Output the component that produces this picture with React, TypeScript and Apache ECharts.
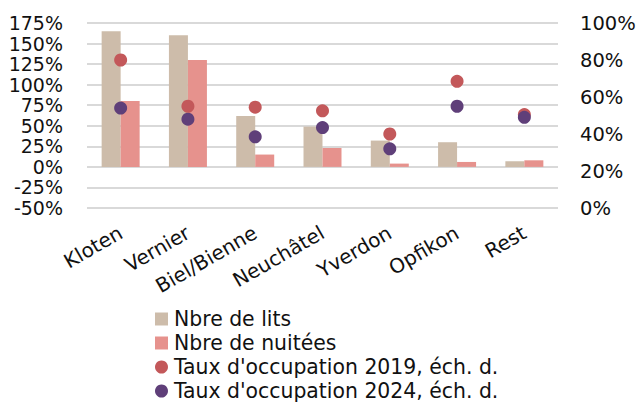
import React, { useEffect, useRef } from "react";
import * as echarts from "echarts";

const categories = ["Kloten", "Vernier", "Biel/Bienne", "Neuchâtel", "Yverdon", "Opfikon", "Rest"];
const lits = [165, 160, 62, 49, 32, 30, 7];
const nuitees = [80, 130, 15, 23, 4, 6, 8];
const taux2019 = [80, 55, 54.5, 52.5, 40, 68.5, 50.5];
const taux2024 = [54, 48, 38.5, 43.5, 32, 55, 49];

const FONT = "DejaVu Sans";

export default function App() {
  const ref = useRef<HTMLDivElement>(null);
  useEffect(() => {
    const chart = echarts.init(ref.current!, null, { renderer: "svg" });
    chart.setOption({
      animation: false,
      textStyle: { fontFamily: FONT },
      grid: { left: 87, right: 81, top: 23, bottom: 197, containLabel: false },
      legend: {
        orient: "vertical",
        left: 155,
        top: 309,
        height: 100,
        padding: 0,
        itemWidth: 13,
        itemHeight: 13,
        itemGap: 4,
        textStyle: { fontFamily: FONT, fontSize: 20.4, lineHeight: 20, color: "#111", padding: [0, 0, 0, 1] },
        data: [
          { name: "Nbre de lits", icon: "rect" },
          { name: "Nbre de nuitées", icon: "rect" },
          { name: "Taux d'occupation 2019, éch. d.", icon: "circle" },
          { name: "Taux d'occupation 2024, éch. d.", icon: "circle" },
        ],
      },
      xAxis: {
        type: "category",
        data: categories,
        axisLine: { show: false },
        axisTick: { show: false },
        axisLabel: { rotate: 30, fontSize: 20, color: "#111", margin: 23, interval: 0, fontFamily: FONT },
      },
      yAxis: [
        {
          type: "value",
          min: -50,
          max: 175,
          interval: 25,
          axisLabel: { formatter: "{value}%", fontSize: 19, color: "#111", margin: 24, fontFamily: FONT },
          splitLine: { lineStyle: { color: "#d9d9d9", width: 2 } },
          axisLine: { show: false },
          axisTick: { show: false },
        },
        {
          type: "value",
          min: 0,
          max: 100,
          interval: 20,
          position: "right",
          axisLabel: { formatter: "{value}%", fontSize: 19.5, color: "#111", margin: 22, fontFamily: FONT },
          splitLine: { show: false },
          axisLine: { show: false },
          axisTick: { show: false },
        },
      ],
      series: [
        {
          name: "Nbre de lits",
          type: "bar",
          data: lits,
          barWidth: 19,
          barGap: "0%",
          itemStyle: { color: "#cdbcaa" },
        },
        {
          name: "Nbre de nuitées",
          type: "bar",
          data: nuitees,
          barWidth: 19,
          barGap: "0%",
          itemStyle: { color: "#e6928d" },
        },
        {
          name: "Taux d'occupation 2019, éch. d.",
          type: "scatter",
          yAxisIndex: 1,
          data: taux2019,
          symbolSize: 13,
          itemStyle: { color: "#c3585a", opacity: 1 },
        },
        {
          name: "Taux d'occupation 2024, éch. d.",
          type: "scatter",
          yAxisIndex: 1,
          data: taux2024,
          symbolSize: 13,
          itemStyle: { color: "#5f3f79", opacity: 1 },
        },
      ],
    });
    return () => chart.dispose();
  }, []);
  return <div ref={ref} style={{ width: 639, height: 405, position: "absolute", left: 0, top: 0 }} />;
}
